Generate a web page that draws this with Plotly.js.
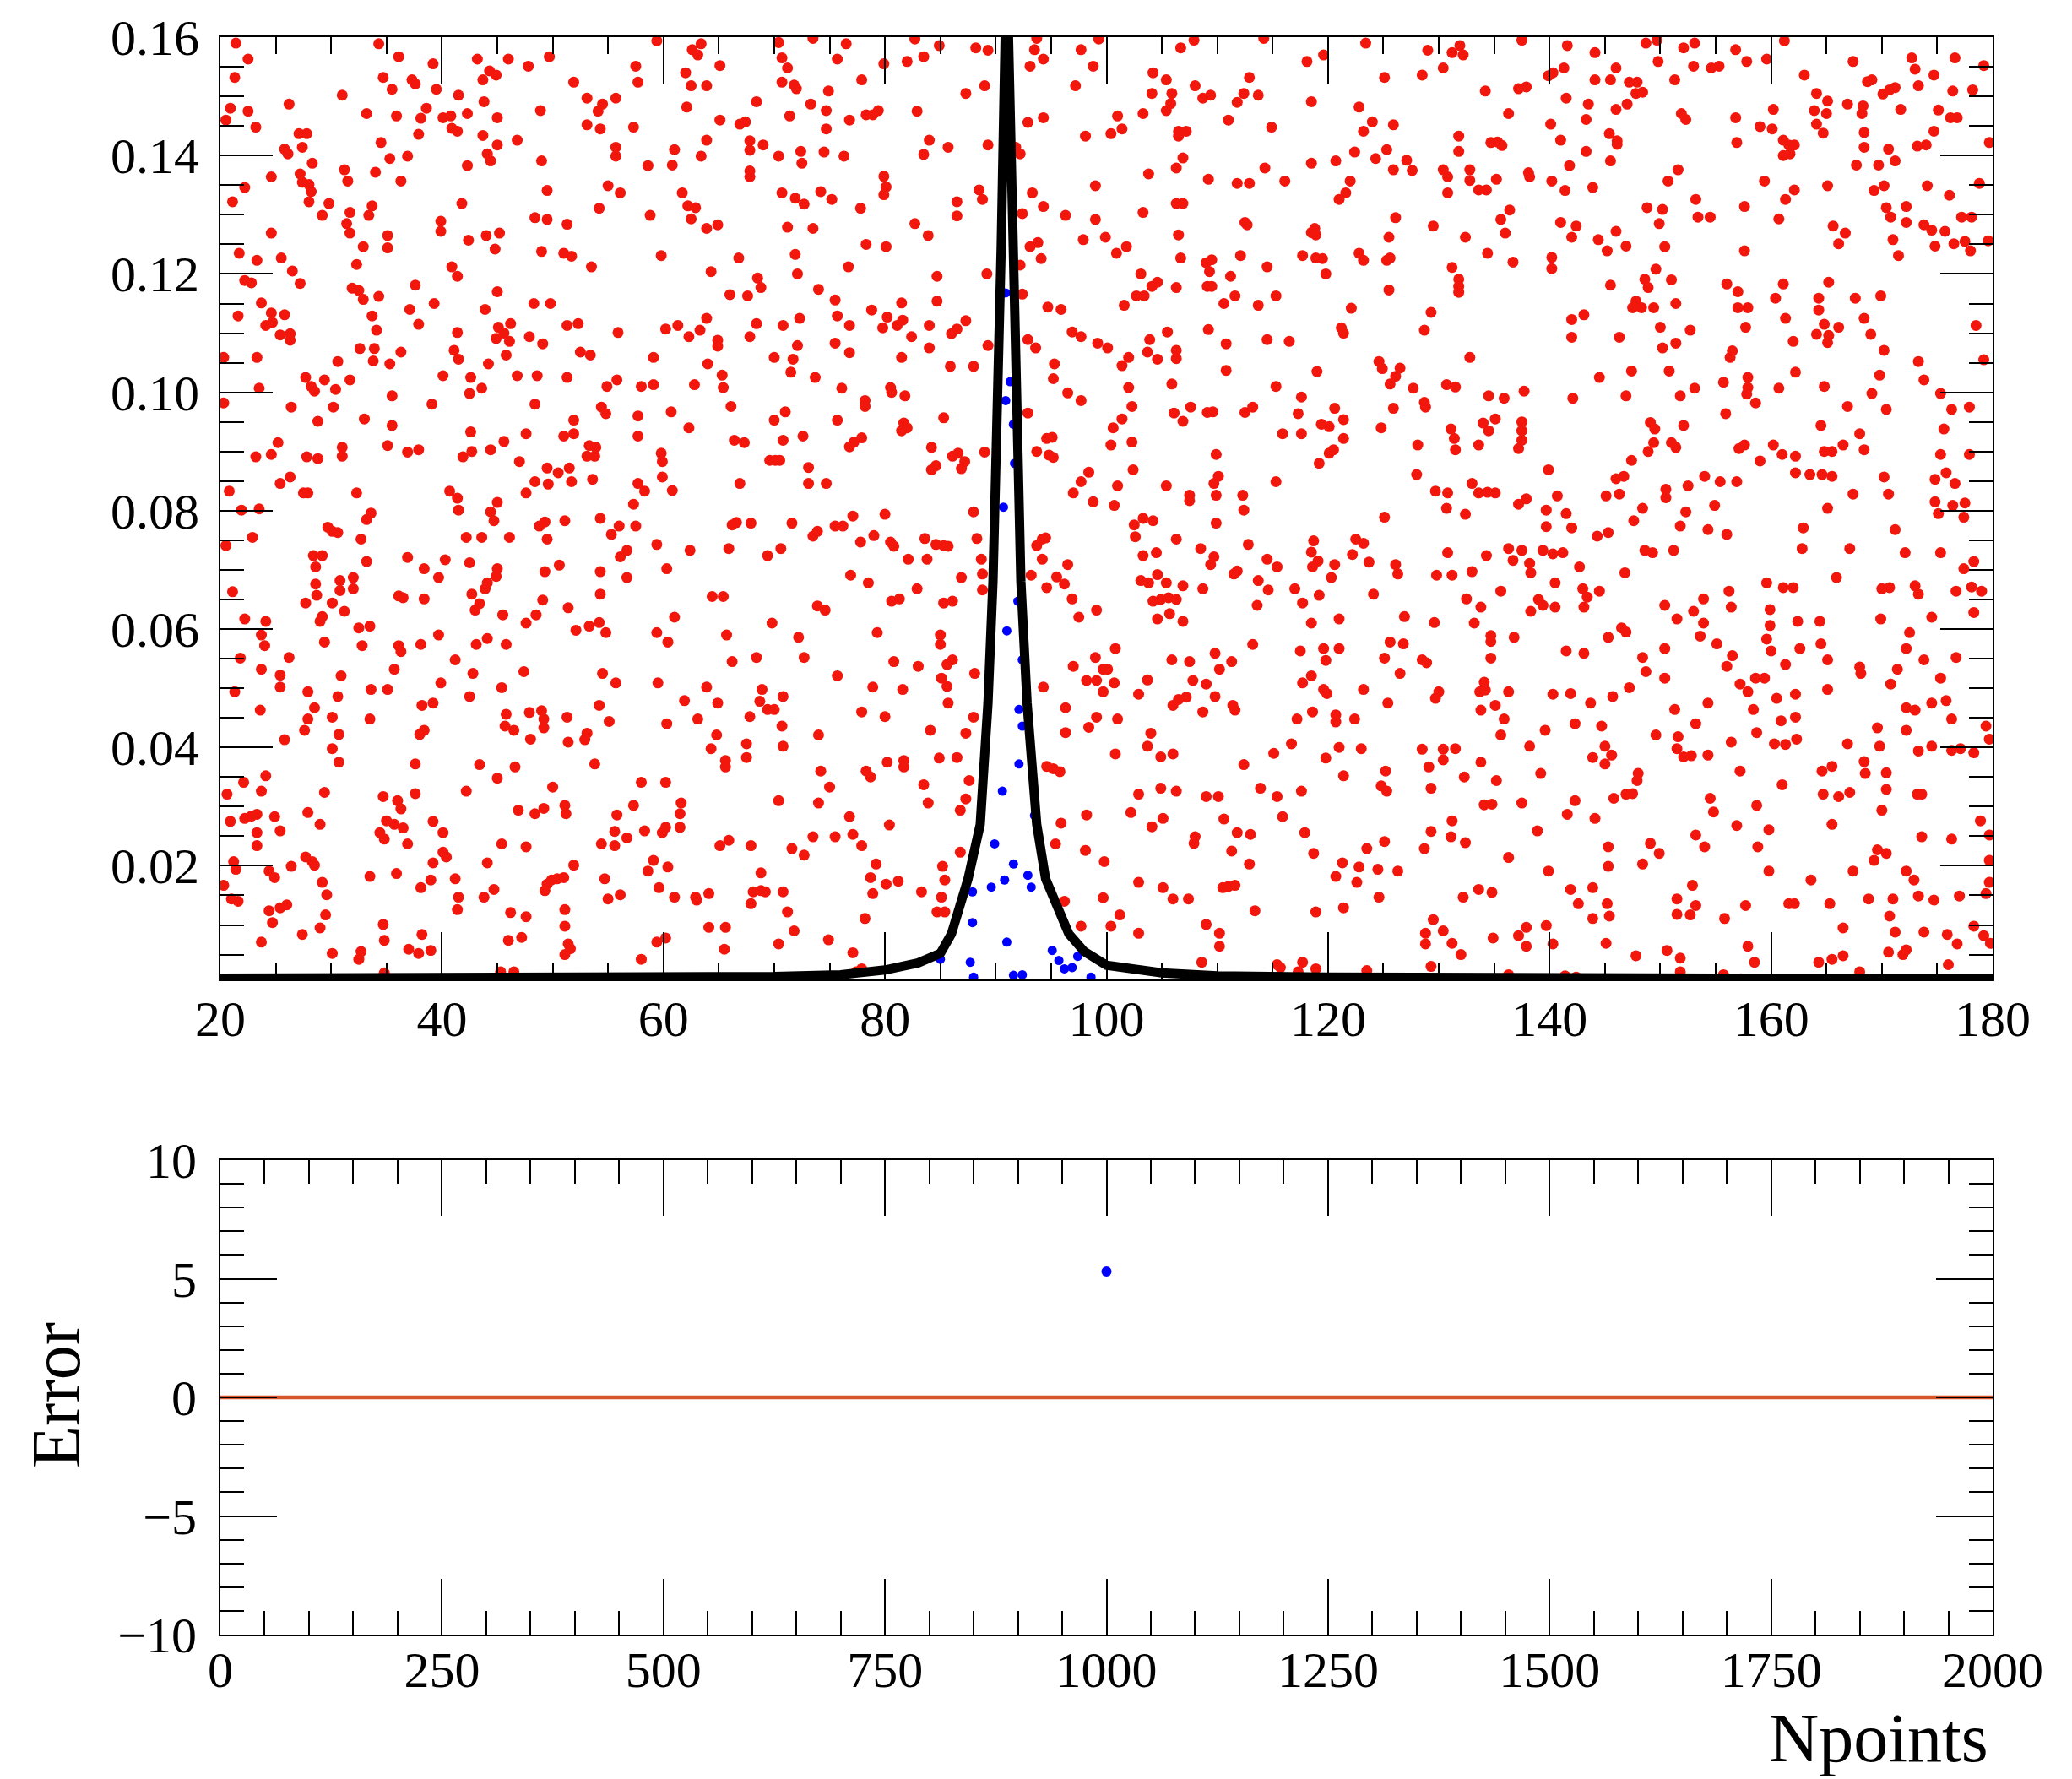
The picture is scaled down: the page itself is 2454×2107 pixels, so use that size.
<!DOCTYPE html>
<html><head><meta charset="utf-8">
<script src="https://cdn.plot.ly/plotly-3.0.1.min.js"></script>
<style>html,body{margin:0;padding:0;background:#fff}#chart{width:2454px;height:2107px}</style>
</head><body><div id="chart"></div>
<script>
// ---- rejected (red) points as [x, y] ----
const red_20_60_upper = [[21.4,0.159],[34.3,0.1589],[36.1,0.1567],[22.5,0.1563],[39.2,0.1555],[43.2,0.1563],[46.0,0.1563],[47.8,0.1551],[49.7,0.1567],[57.5,0.1551],[59.4,0.1594],
[21.3,0.1532],[34.7,0.1532],[35.5,0.1512],[37.3,0.1528],[37.6,0.1521],[39.5,0.1512],[43.7,0.1528],[44.3,0.1543],[44.9,0.1536],[51.9,0.1524],[57.7,0.1524],
[31.0,0.1502],[26.2,0.1487],[41.5,0.1502],[43.8,0.1491],[53.1,0.1497],[55.7,0.1497],[54.5,0.1487],[54.1,0.1475],[20.9,0.1480],[22.5,0.1475],[33.2,0.1471],[35.9,0.1467],[38.6,0.1480],[38.1,0.1463],[40.1,0.1464],[40.8,0.1467],[42.3,0.1471],[45.0,0.1464],[48.9,0.1476],[20.5,0.1460],
[23.2,0.1448],[27.1,0.1437],[27.8,0.1437],[27.4,0.1414],[34.5,0.1422],[37.9,0.1436],[40.9,0.1446],[41.4,0.1441],[43.7,0.1434],[46.8,0.1426],[53.1,0.1452],[54.3,0.1445],[57.3,0.1448],[25.8,0.1411],[26.1,0.1403],[45.0,0.1418],[44.1,0.1403],[44.4,0.1391],[28.3,0.1387],[35.3,0.1395],[36.9,0.1399],[42.3,0.1383],[49.0,0.1391],[55.7,0.1414],[55.7,0.1399],[58.6,0.1383],
[24.6,0.1364],[27.2,0.1369],[27.4,0.1355],[28.0,0.1351],[28.2,0.1339],[28.0,0.1322],[31.2,0.1376],[31.5,0.1357],[34.0,0.1372],[36.3,0.1357],[22.2,0.1346],[21.1,0.1322],[29.8,0.1319],[29.2,0.1299],[31.7,0.1304],[33.7,0.1315],[33.4,0.1299],[41.8,0.1319],[49.5,0.1341],[55.0,0.1349],[56.1,0.1337],[54.2,0.1311],[58.8,0.1299],[48.4,0.1295],[49.5,0.1292],
[31.4,0.1285],[31.7,0.1269],[39.9,0.1289],[39.9,0.1272],[35.1,0.1265],[35.1,0.1244],[24.6,0.1269],[42.4,0.1257],[44.0,0.1265],[45.2,0.1269],[44.8,0.1242],[51.3,0.1284],[49.0,0.1238],[51.0,0.1235],[51.7,0.1230],[21.7,0.1235],[23.3,0.1223],[25.5,0.1227],[32.9,0.1246],[32.3,0.1216],[40.9,0.1212],[41.4,0.1196],[53.5,0.1212],[59.8,0.1231],[26.5,0.1205],[27.2,0.1184],[22.2,0.1189],[22.8,0.1185],
[37.6,0.1181],[31.9,0.1176],[32.5,0.1172],[32.9,0.1157],[34.3,0.1162],[45.0,0.1170],[39.3,0.1150],[23.7,0.1151],[24.6,0.1134],[21.6,0.1129],[25.8,0.1131],[24.1,0.1113],[24.7,0.1118],[48.3,0.1150],[49.8,0.1150],[37.1,0.1140],[43.9,0.1140],[33.7,0.1129],[37.9,0.1115],[34.1,0.1105],[25.4,0.1097],[26.3,0.1099],[26.3,0.1088],[41.4,0.1101],[45.1,0.1110],[44.9,0.1091],[45.6,0.1100],[46.1,0.1086],[46.2,0.1116],[47.9,0.1094],[49.1,0.1082],[51.3,0.1113],[52.3,0.1116],[55.9,0.1101],
[32.6,0.1074],[33.9,0.1074],[36.3,0.1068],[20.3,0.1059],[23.3,0.1059],[41.1,0.1071],[41.5,0.1056],[45.8,0.1063],[44.2,0.1048],[52.5,0.1068],[53.4,0.1063],[59.1,0.1059],[30.6,0.1052],[33.8,0.1053],[35.3,0.1048],[27.7,0.1025],[28.2,0.1010],[29.4,0.1021],[30.4,0.1005],[31.7,0.1021],[28.5,0.1002],[40.1,0.1028],[42.6,0.1025],[42.5,0.0998],[43.6,0.1007],[46.8,0.1028],[48.6,0.1028],[51.3,0.1025],[54.9,0.1010],[55.8,0.1021],[58.0,0.1010],[59.1,0.1013],[23.5,0.1007],[35.5,0.0994],[20.3,0.0982],[26.4,0.0975],[30.2,0.0975],[39.1,0.0980],[48.4,0.0980],
[54.4,0.0975],[54.8,0.0964],[28.8,0.0951],[33.0,0.0955],[35.5,0.0944],[57.7,0.0960],[51.9,0.0953],[42.6,0.0933],[47.6,0.0930],[45.6,0.0917],[51.0,0.0926],[51.9,0.0930],[57.7,0.0926],[25.2,0.0915],[35.1,0.0910],[31.0,0.0907],[31.0,0.0892],[23.2,0.0891],[24.6,0.0895],[27.8,0.0891],[28.8,0.0888],[36.9,0.0899],[37.9,0.0903],[41.9,0.0891],[42.7,0.0900],[44.4,0.0903],[53.3,0.0910],[53.9,0.0907],[53.1,0.0892],[53.8,0.0892],[59.8,0.0897],[59.9,0.0883],
[47.0,0.0883],[49.5,0.0872],[50.5,0.0864],[51.5,0.0872],[48.4,0.0849],[49.6,0.0845],[51.7,0.0849],[53.6,0.0853],[59.9,0.0857],[26.3,0.0857],[25.4,0.0846],[20.8,0.0833],[27.5,0.0830],[27.9,0.0830],[32.3,0.0830],[40.7,0.0833],[41.4,0.0821],[47.6,0.0830],[57.7,0.0846],[58.3,0.0833],[45.0,0.0814],[57.3,0.0811],[21.9,0.0801],[23.5,0.0803],[41.5,0.0801]];

const red_20_60_lower = [[22.9,0.0755],[20.5,0.0741],[29.7,0.0772],[30.1,0.0765],[30.6,0.0763],[32.7,0.0752],[33.2,0.0785],[33.6,0.0796],[44.4,0.0798],[44.7,0.0783],[42.2,0.0755],[43.6,0.0755],[46.1,0.0755],[48.8,0.0774],[49.3,0.0781],[49.5,0.0752],[51.1,0.0783],[54.3,0.0787],[56.0,0.0774],[55.3,0.0760],[57.5,0.0774],[56.7,0.0733],[56.1,0.0722],[59.4,0.0743],[28.4,0.0724],[29.2,0.0724],[28.6,0.0705],[36.9,0.0721],[40.3,0.0717],[33.2,0.0714],[42.5,0.0712],
[38.4,0.0702],[39.7,0.0687],[45.0,0.0702],[44.9,0.0689],[44.1,0.0678],[43.9,0.0668],[49.3,0.0697],[50.6,0.0708],[54.3,0.0697],[56.7,0.0687],[21.1,0.0663],[28.6,0.0676],[28.7,0.0657],[30.8,0.0682],[30.8,0.0665],[32.0,0.0687],[32.0,0.0668],[36.1,0.0656],[36.5,0.0653],[38.4,0.0651],[42.7,0.0659],[43.4,0.0643],[43.0,0.0632],[54.3,0.0659],[49.1,0.0649],[48.5,0.0624],[47.6,0.0610],[51.4,0.0636],[27.7,0.0644],[30.1,0.0644],[31.2,0.0630],[29.2,0.0621],[29.0,0.0613],[45.5,0.0624],[22.2,0.0617],[24.1,0.0613],[23.7,0.0590],[24.0,0.0572],[32.5,0.0602],[33.5,0.0605],[32.8,0.0572],[53.3,0.0605],[54.2,0.0611],[54.8,0.0594],[52.1,0.0598],[59.4,0.0594],
[29.4,0.0578],[38.1,0.0574],[39.7,0.0590],[43.1,0.0574],[44.1,0.0584],[45.8,0.0574],[36.1,0.0572],[36.3,0.0562],[21.8,0.0551],[26.2,0.0552],[23.7,0.0532],[25.4,0.0522],[25.4,0.0502],[30.9,0.0521],[35.7,0.0532],[41.2,0.0548],[42.8,0.0525],[47.4,0.0528],[54.5,0.0525],[55.7,0.0509],[59.5,0.0509],[21.3,0.0494],[27.9,0.0494],[30.6,0.0486],[33.6,0.0498],[35.1,0.0498],[39.9,0.0509],[42.5,0.0486],[45.4,0.0501],
[23.6,0.0463],[28.5,0.0467],[27.9,0.0448],[27.6,0.0429],[30.1,0.0451],[30.7,0.0422],[33.5,0.0448],[38.2,0.0471],[39.2,0.0475],[38.0,0.0422],[38.4,0.0429],[45.8,0.0456],[45.7,0.0436],[46.5,0.0429],[47.9,0.0459],[49.0,0.0462],[49.2,0.0448],[49.2,0.0433],[48.0,0.0414],[51.3,0.0451],[51.4,0.0409],[53.1,0.0424],[52.9,0.0413],[54.2,0.0471],[55.1,0.0444],[25.8,0.0413],[30.1,0.0398],[30.7,0.0375],[37.6,0.0372],[43.4,0.0371],[45.0,0.0348],[46.6,0.0367],[53.8,0.0372],
[22.1,0.0341],[24.1,0.0352],[20.6,0.0321],[23.7,0.0326],[29.4,0.0324],[34.7,0.0317],[36.0,0.0310],[36.3,0.0296],[37.6,0.0322],[42.2,0.0326],[50.0,0.0333],[58.0,0.0341],[46.9,0.0294],[48.4,0.0288],[49.2,0.0297],[51.1,0.0302],[51.2,0.0288],[57.3,0.0302],[22.2,0.0280],[22.8,0.0284],[23.3,0.0287],[20.9,0.0275],[24.9,0.0283],[27.9,0.0290],[29.0,0.0270],[55.8,0.0286],
[23.3,0.0256],[23.3,0.0234],[25.4,0.0259],[34.4,0.0256],[34.8,0.0245],[35.0,0.0276],[35.7,0.0270],[36.5,0.0264],[36.9,0.0237],[39.2,0.0275],[40.1,0.0256],[40.1,0.0223],[40.4,0.0215],[39.2,0.0205],[45.4,0.0237],[47.6,0.0232],[54.4,0.0237],[55.6,0.0258],[55.6,0.0234],[56.7,0.0247],[58.3,0.0259],[59.9,0.0256],[21.2,0.0207],[21.4,0.0194],[26.4,0.0199],[27.7,0.0215],[28.3,0.0207],[28.5,0.0201],[44.1,0.0205],[51.9,0.0201],[59.1,0.0209],[58.6,0.0191],[24.4,0.0191],[24.9,0.0180],[33.5,0.0182],[35.9,0.0187],[41.2,0.0178],[51.0,0.0180],[50.4,0.0178],[49.9,0.0176],[49.5,0.0169],[49.3,0.0158],[54.7,0.0178],[20.3,0.0167],[29.2,0.0172],
[29.6,0.0151],[38.1,0.0163],[39.0,0.0176],[41.5,0.0147],[43.8,0.0147],[44.7,0.0160],[59.6,0.0163],[55.0,0.0144],[56.1,0.0151],[21.0,0.0144],[21.6,0.0140],[24.4,0.0124],[25.4,0.0129],[26.0,0.0134],[24.7,0.0104],[29.5,0.0117],[29.0,0.0095],[27.4,0.0084],[41.4,0.0126],[46.2,0.0121],[47.6,0.0114],[51.1,0.0126],[51.1,0.0098],[34.7,0.0101],[34.8,0.0074],[38.2,0.0084],[23.7,0.0071],[46.0,0.0074],[47.2,0.0079],[51.4,0.0068],[51.6,0.0060],[51.1,0.0050],[37.0,0.0059],[37.9,0.0052],[39.0,0.0057],[59.4,0.0071],[30.1,0.0052],[32.7,0.0055],[32.5,0.0042],[58.0,0.0042],[34.8,0.0019],[45.3,0.0021],[46.5,0.0021]];

const red_60_100_upper = [[62.6,0.1579],[63.1,0.1570],[63.4,0.1589],[65.1,0.1552],[70.4,0.1591],[70.7,0.1565],[71.2,0.1548],[73.5,0.1598],[75.7,0.1563],[76.5,0.1589],[79.9,0.1555],[82.0,0.1559],[82.7,0.1597],[83.5,0.1567],[84.9,0.1586],[88.2,0.1582],[89.3,0.1578],[93.5,0.1579],[94.3,0.1563],[93.1,0.1551],[93.7,0.1598],[97.7,0.1579],[98.8,0.1551],[99.3,0.1597],[62.0,0.1540],[62.5,0.1518],[63.9,0.1518],[70.7,0.1524],[71.8,0.1519],[72.0,0.1513],[74.9,0.1509],[77.9,0.1528],[89.0,0.1518],[87.3,0.1505],[97.2,0.1518],
[68.4,0.1491],[62.1,0.1482],[73.3,0.1487],[74.7,0.1476],[71.4,0.1467],[65.1,0.1460],[66.9,0.1453],[67.4,0.1457],[74.7,0.1445],[76.8,0.1460],[78.3,0.1469],[78.9,0.1469],[79.4,0.1476],[82.9,0.1475],[92.9,0.1456],[94.3,0.1464],[98.1,0.1433],[63.9,0.1426],[61.0,0.1410],[67.8,0.1425],[67.8,0.1409],[69.0,0.1418],[70.4,0.1399],[72.4,0.1407],[72.5,0.1387],[74.5,0.1406],[76.3,0.1399],[63.4,0.1399],[60.8,0.1384],[84.0,0.1426],[85.7,0.1414],[83.5,0.1402],[89.3,0.1418],[92.2,0.1403],[91.8,0.1414],
[67.8,0.1374],[67.8,0.1364],[79.9,0.1365],[80.1,0.1347],[79.9,0.1334],[61.7,0.1337],[62.2,0.1315],[62.9,0.1312],[62.5,0.1293],[63.9,0.1277],[64.9,0.1283],[70.7,0.1337],[71.9,0.1328],[72.7,0.1318],[74.2,0.1339],[75.2,0.1326],[77.8,0.1311],[86.5,0.1322],[86.5,0.1298],[88.5,0.1342],[88.8,0.1326],[93.3,0.1337],[94.3,0.1314],[92.4,0.1302],[96.3,0.1299],[99.0,0.1349],[99.0,0.1292],[71.2,0.1279],[73.5,0.1277],[82.7,0.1285],[83.9,0.1265],
[66.8,0.1227],[71.9,0.1233],[72.1,0.1200],[64.3,0.1204],[68.5,0.1193],[68.8,0.1177],[66.0,0.1165],[67.6,0.1163],[74.0,0.1174],[76.7,0.1212],[78.3,0.1250],[80.1,0.1246],[93.1,0.1246],[93.8,0.1253],[94.1,0.1226],[97.9,0.1258],[99.9,0.1262],[84.7,0.1196],[89.2,0.1200],[92.2,0.1215],[75.5,0.1156],[81.5,0.1151],[78.8,0.1139],[84.7,0.1154],[92.4,0.1166],[94.7,0.1144],[95.9,0.1140],
[60.2,0.1107],[61.3,0.1113],[62.3,0.1094],[63.3,0.1105],[63.9,0.1125],[64.9,0.1088],[64.9,0.1078],[68.4,0.1116],[67.8,0.1094],[70.8,0.1113],[72.3,0.1125],[75.7,0.1129],[76.8,0.1113],[75.5,0.1083],[76.8,0.1067],[72.1,0.1079],[71.7,0.1056],[71.5,0.1034],[70.0,0.1059],[80.2,0.1127],[79.8,0.1109],[81.1,0.1113],[81.6,0.1122],[82.4,0.1094],[84.0,0.1113],[84.0,0.1075],[86.0,0.1099],[86.5,0.1107],[87.3,0.1121],[85.9,0.1044],[88.0,0.1044],[89.3,0.1079],[92.9,0.1089],[93.6,0.1075],[96.9,0.1102],[97.7,0.1094],[99.2,0.1083],[81.5,0.1059],[64.0,0.1048],[65.3,0.1029],[95.3,0.1048],
[62.8,0.1013],[65.4,0.1008],[73.7,0.1025],[76.1,0.1007],[80.5,0.1008],[80.6,0.1000],[81.8,0.0994],[78.2,0.0986],[78.2,0.0976],[95.2,0.1023],[96.5,0.0999],[97.7,0.0986],[60.7,0.0967],[66.1,0.0976],[62.3,0.0940],[70.0,0.0953],[71.0,0.0967],[75.7,0.0953],[85.3,0.0957],[81.7,0.0948],[82.0,0.0940],[81.5,0.0935],[92.9,0.0965],
[66.4,0.0919],[67.3,0.0915],[70.8,0.0919],[72.6,0.0926],[76.8,0.0908],[77.2,0.0916],[77.9,0.0923],[84.2,0.0907],[86.1,0.0892],[86.6,0.0897],[87.2,0.0883],[86.9,0.0871],[84.6,0.0876],[84.2,0.0869],[89.0,0.0899],[93.7,0.0900],[94.6,0.0922],[95.1,0.0924],[94.8,0.0894],[95.2,0.0890],[69.6,0.0885],[70.1,0.0885],[70.5,0.0885],[73.1,0.0873],[98.4,0.0865],[97.7,0.0849],[97.0,0.0830],[66.9,0.0846],[73.1,0.0846],[74.7,0.0846],[60.8,0.0834],[98.8,0.0815]];

const red_60_100_lower = [[66.2,0.0776],[66.6,0.0780],[67.9,0.0779],[71.6,0.0779],[75.5,0.0774],[76.2,0.0774],[77.1,0.0791],[80.0,0.0794],[88.0,0.0798],[62.4,0.0733],[65.9,0.0736],[69.4,0.0724],[70.6,0.0736],[73.5,0.0757],[73.9,0.0765],[77.8,0.0747],[79.0,0.0758],[80.5,0.0747],[80.8,0.0740],[83.6,0.0753],[84.6,0.0743],[85.3,0.0741],[85.7,0.0740],[88.3,0.0753],[94.2,0.0752],[93.7,0.0741],[94.5,0.0754],[60.3,0.0702],[82.1,0.0718],[83.8,0.0718],[88.7,0.0718],[94.2,0.0718],[96.5,0.0709],[76.9,0.0691],[78.5,0.0678],[86.9,0.0687],[88.8,0.0693],[88.8,0.0666],[93.2,0.0691],[95.5,0.0688],[96.2,0.0676],[94.6,0.0670],[82.9,0.0668],
[64.4,0.0655],[65.4,0.0655],[80.6,0.0647],[81.3,0.0651],[85.3,0.0644],[86.1,0.0647],[96.9,0.0651],[73.9,0.0639],[74.6,0.0632],[61.0,0.0620],[69.8,0.0610],[97.5,0.0620],[99.1,0.0632],[60.4,0.0578],[65.7,0.0590],[72.2,0.0586],[79.3,0.0594],[85.0,0.0590],[85.0,0.0574],[66.2,0.0545],[68.4,0.0552],[72.7,0.0552],[80.8,0.0545],[83.0,0.0537],[85.6,0.0540],[86.1,0.0548],[99.0,0.0552],[97.0,0.0537],[99.7,0.0532],
[75.7,0.0521],[78.9,0.0502],[81.6,0.0498],[85.1,0.0517],[85.6,0.0503],[88.1,0.0525],[94.3,0.0502],[98.2,0.0513],[99.1,0.0513],[99.7,0.0494],[63.9,0.0502],[61.9,0.0479],[64.9,0.0475],[68.9,0.0498],[68.7,0.0478],[69.4,0.0464],[70.0,0.0464],[70.8,0.0486],[85.7,0.0475],[77.9,0.0460],[80.0,0.0452],[63.1,0.0448],[67.8,0.0452],[70.7,0.0436],[60.3,0.0440],[88.0,0.0451],[96.3,0.0467],[99.1,0.0451],[98.4,0.0434],[64.8,0.0421],[74.0,0.0421],[84.1,0.0429],[87.3,0.0424],[96.3,0.0425],
[64.3,0.0398],[67.5,0.0406],[70.8,0.0402],[65.6,0.0378],[65.6,0.0367],[67.5,0.0383],[74.2,0.0360],[78.3,0.0360],[78.7,0.0350],[80.2,0.0375],[81.7,0.0378],[81.7,0.0367],[84.9,0.0382],[86.5,0.0383],[94.6,0.0368],[95.2,0.0364],[95.8,0.0359],[60.2,0.0341],[75.0,0.0333],[83.5,0.0337],[87.6,0.0344],[61.6,0.0306],[61.5,0.0288],[70.4,0.0310],[74.0,0.0306],[83.9,0.0306],[87.3,0.0313],[86.8,0.0294],[76.8,0.0283],[98.2,0.0286],
[60.2,0.0265],[61.5,0.0265],[65.1,0.0234],[65.9,0.0243],[67.9,0.0234],[71.6,0.0229],[72.7,0.0218],[73.5,0.0249],[75.5,0.0249],[77.1,0.0253],[77.9,0.0234],[80.4,0.0269],[95.9,0.0272],[86.8,0.0223],[95.4,0.0237],[98.1,0.0226],[60.4,0.0198],[68.8,0.0188],[79.2,0.0203],[85.2,0.0199],[78.7,0.0180],[80.1,0.0169],[81.2,0.0174],[85.4,0.0176],[61.0,0.0147],[62.9,0.0147],[63.0,0.0142],[64.1,0.0153],[68.1,0.0156],[68.8,0.0158],[69.2,0.0156],[70.8,0.0156],[78.9,0.0153],[83.3,0.0156],[85.1,0.0147],
[67.9,0.0136],[71.2,0.0122],[84.7,0.0122],[85.4,0.0122],[96.2,0.0140],[99.7,0.0146],[64.1,0.0096],[65.6,0.0096],[78.2,0.0111],[71.8,0.0090],[97.7,0.0098],[60.2,0.0078],[65.5,0.0059],[70.4,0.0068],[74.9,0.0075],[77.1,0.0053],[77.9,0.0026],[77.4,0.0021]];

const red_100_140_upper = [[106.7,0.1582],[107.9,0.1595],[114.2,0.1598],[118.1,0.1559],[119.6,0.1570],[123.4,0.1590],[129.0,0.1578],[131.2,0.1574],[131.9,0.1586],[132.2,0.1570],[137.5,0.1595],[130.4,0.1548],[128.5,0.1536],[125.1,0.1532],[104.2,0.1540],[105.4,0.1528],[104.1,0.1505],[105.9,0.1505],[108.0,0.1518],[108.7,0.1497],[109.4,0.1502],[112.9,0.1532],[112.4,0.1505],[113.7,0.1502],[111.8,0.1490],[134.2,0.1509],[137.2,0.1513],[137.9,0.1516],[118.5,0.1491],[122.8,0.1482],[105.8,0.1488],[105.4,0.1476],[101.0,0.1467],[103.3,0.1471],
[100.4,0.1437],[101.4,0.1445],[106.5,0.1441],[107.2,0.1441],[106.5,0.1433],[111.0,0.1460],[114.9,0.1448],[124.0,0.1457],[123.2,0.1441],[125.9,0.1452],[136.3,0.1471],[131.8,0.1433],[131.8,0.1407],[134.7,0.1422],[135.3,0.1423],[135.7,0.1417],[106.9,0.1396],[106.3,0.1379],[103.8,0.1369],[109.2,0.1360],[111.8,0.1353],[112.9,0.1353],[114.3,0.1379],[116.1,0.1357],[118.5,0.1387],[120.7,0.1391],[122.4,0.1406],[124.3,0.1395],[125.3,0.1410],[125.9,0.1376],[127.1,0.1392],[127.6,0.1375],[130.4,0.1376],[130.8,0.1364],[132.8,0.1376],[132.8,0.1358],[133.6,0.1342],[134.3,0.1342],[135.2,0.1360],[138.1,0.1371],[138.2,0.1364],[122.0,0.1357],[121.6,0.1337],[121.0,0.1326],[130.8,0.1337],
[106.3,0.1319],[106.9,0.1319],[103.3,0.1304],[112.5,0.1287],[112.7,0.1283],[136.4,0.1308],[135.6,0.1292],[136.0,0.1269],[126.1,0.1295],[129.5,0.1281],[118.8,0.1277],[118.9,0.1266],[118.5,0.1270],[100.9,0.1235],[101.8,0.1246],[106.5,0.1266],[125.5,0.1262],[132.4,0.1262],[106.7,0.1227],[109.0,0.1219],[109.5,0.1224],[109.3,0.1204],[112.1,0.1231],[117.7,0.1231],[118.9,0.1227],[119.5,0.1226],[119.8,0.1200],[122.8,0.1235],[123.2,0.1223],[125.3,0.1223],[125.6,0.1227],[134.4,0.1235],[136.7,0.1220],[114.5,0.1212],[131.2,0.1211],[103.1,0.1200],[104.6,0.1186],[104.1,0.1179],[103.4,0.1163],[102.7,0.1163],[111.2,0.1196],
[131.8,0.1191],[131.8,0.1179],[131.8,0.1169],[106.3,0.1177],[109.1,0.1179],[109.5,0.1179],[115.3,0.1163],[111.6,0.1163],[110.6,0.1150],[101.6,0.1147],[113.7,0.1147],[125.5,0.1173],[122.1,0.1142],[129.3,0.1135],[121.2,0.1109],[121.4,0.1100],[128.7,0.1105],[105.5,0.1102],[109.2,0.1106],[103.9,0.1089],[103.7,0.1068],[104.6,0.1056],[106.3,0.1071],[106.3,0.1057],[102.0,0.1059],[101.4,0.1045],[100.1,0.1075],[114.5,0.1089],[116.5,0.1086],[110.8,0.1082],
[132.8,0.1059],[124.6,0.1052],[124.9,0.1040],[126.5,0.1041],[126.1,0.1027],[125.6,0.1014],[110.8,0.1037],[119.0,0.1035],[105.9,0.1014],[102.0,0.1008],[115.3,0.1010],[127.7,0.1007],[130.7,0.1013],[131.5,0.1009],[134.5,0.0994],[135.9,0.0990],[137.7,0.1002],[128.7,0.0983],[128.8,0.0975],[117.6,0.0992],[102.3,0.0976],[107.6,0.0975],[106.1,0.0965],[106.9,0.0951],[109.1,0.0966],[109.6,0.0967],[112.5,0.0966],[113.2,0.0975],[117.3,0.0964],[120.6,0.0973],[125.9,0.0973],[121.4,0.0954],[119.4,0.0946],[120.1,0.0942],[101.4,0.0955],[100.6,0.0940],
[115.9,0.0930],[117.6,0.0930],[121.4,0.0922],[124.8,0.0940],[131.1,0.0938],[131.4,0.0922],[131.5,0.0903],[134.0,0.0948],[135.1,0.0955],[134.5,0.0935],[133.6,0.0911],[137.5,0.0950],[137.5,0.0935],[137.5,0.0919],[137.2,0.0905],[128.1,0.0911],[100.4,0.0911],[102.3,0.0916],[109.9,0.0895],[120.5,0.0903],[120.1,0.0897],[119.2,0.0880],[102.4,0.0869],[101.0,0.0842],[105.4,0.0842],[110.1,0.0858],[109.7,0.0846],[109.9,0.0826],[107.5,0.0826],[107.5,0.0817],[112.3,0.0826],[115.3,0.0849],[128.0,0.0861],[129.7,0.0833],[130.8,0.0830],[133.0,0.0846],[133.6,0.0830],[134.4,0.0831],[135.1,0.0830],[137.9,0.0820],[137.2,0.0811],[100.7,0.0809],[130.7,0.0804],[112.4,0.0801]];

const red_100_140_lower = [[125.1,0.0789],[132.4,0.0794],[102.5,0.0776],[103.3,0.0787],[104.2,0.0783],[102.6,0.0756],[106.3,0.0752],[109.9,0.0779],[112.8,0.0743],[103.3,0.0724],[104.5,0.0729],[108.5,0.0736],[109.7,0.0722],[109.4,0.0709],[118.7,0.0749],[118.5,0.0730],[119.1,0.0715],[118.6,0.0705],[120.6,0.0709],[122.5,0.0752],[123.2,0.0745],[122.2,0.0726],[123.7,0.0713],[126.1,0.0709],[126.3,0.0693],[130.8,0.0729],[134.3,0.0724],[136.3,0.0736],[137.5,0.0733],[136.7,0.0716],[138.2,0.0711],[138.3,0.0695],[139.4,0.0733],[139.7,0.0773],[114.5,0.0718],[115.4,0.0705],[111.5,0.0693],[111.8,0.0698],[103.1,0.0682],[103.8,0.0678],[104.6,0.0692],[105.4,0.0678],[106.9,0.0673],[108.7,0.0668],[113.7,0.0682],[114.6,0.0666],[117.0,0.0668],[120.3,0.0687],[129.8,0.0691],[131.2,0.0691],[133.0,0.0697],[135.6,0.0664],
[104.2,0.0647],[104.9,0.0650],[105.6,0.0653],[106.3,0.0650],[104.6,0.0617],[105.7,0.0626],[106.9,0.0613],[113.6,0.0640],[117.7,0.0644],[119.2,0.0657],[124.1,0.0659],[132.5,0.0651],[133.8,0.0637],[138.3,0.0630],[139.0,0.0650],[139.4,0.0640],[118.5,0.0610],[121.0,0.0617],[126.9,0.0621],[129.6,0.0611],[133.2,0.0610],[134.7,0.0589],[134.7,0.0579],[136.8,0.0586],[113.2,0.0574],[125.6,0.0578],[126.8,0.0575],[100.8,0.0567],[117.5,0.0563],[119.6,0.0567],[121.0,0.0567],[125.1,0.0551],[128.5,0.0548],[128.9,0.0543],[134.7,0.0551],
[105.9,0.0548],[107.5,0.0545],[109.8,0.0559],[110.2,0.0532],[111.3,0.0545],[100.1,0.0532],[100.7,0.0509],[103.7,0.0514],[102.9,0.0490],[107.8,0.0513],[109.0,0.0507],[109.8,0.0486],[106.0,0.0471],[106.5,0.0481],[107.2,0.0485],[108.7,0.0460],[111.4,0.0471],[111.6,0.0463],[119.8,0.0547],[118.5,0.0521],[117.7,0.0509],[119.6,0.0498],[119.9,0.0491],[126.5,0.0525],[130.0,0.0494],[129.7,0.0483],[123.2,0.0498],[125.4,0.0475],[134.1,0.0510],[133.7,0.0494],[134.2,0.0497],[136.3,0.0494],[101.0,0.0448],[117.2,0.0448],[118.6,0.0460],[120.7,0.0455],[120.7,0.0443],[122.4,0.0448],[133.8,0.0463],[135.1,0.0471],[135.9,0.0448],[135.6,0.0421],[139.6,0.0429],[104.0,0.0424],[103.7,0.0402],
[100.8,0.0389],[104.9,0.0384],[106.0,0.0389],[112.4,0.0371],[115.1,0.0390],[116.7,0.0406],[119.8,0.0382],[121.0,0.0400],[123.0,0.0398],[121.4,0.0352],[128.5,0.0397],[130.4,0.0397],[131.5,0.0398],[130.4,0.0379],[129.1,0.0367],[133.8,0.0375],[138.2,0.0402],[125.2,0.0360],[124.8,0.0335],[125.3,0.0326],[132.3,0.0350],[135.2,0.0344],[139.2,0.0356],[102.9,0.0321],[104.9,0.0331],[106.3,0.0326],[109.0,0.0317],[110.1,0.0317],[113.9,0.0331],[115.4,0.0317],[117.6,0.0326],[129.3,0.0331],[134.1,0.0303],[134.8,0.0304],[137.5,0.0306],[102.2,0.0290],[104.1,0.0266],[105.1,0.0280],[110.6,0.0279],[115.9,0.0283],
[108.0,0.0249],[107.9,0.0238],[111.8,0.0256],[113.0,0.0253],[111.3,0.0225],[112.9,0.0203],[117.9,0.0256],[118.7,0.0221],[123.5,0.0229],[125.1,0.0241],[128.7,0.0229],[129.3,0.0258],[131.2,0.0276],[131.1,0.0249],[132.4,0.0239],[138.9,0.0259],[136.3,0.0214],[121.3,0.0205],[122.8,0.0198],[124.5,0.0194],[126.3,0.0191],[120.7,0.0182],[122.6,0.0172],[124.6,0.0147],[139.9,0.0191],[99.8,0.0207],[102.9,0.0172],[105.1,0.0163],[106.0,0.0144],[107.4,0.0144],[110.5,0.0163],[111.0,0.0165],[111.6,0.0167],[132.2,0.0147],[133.6,0.0160],[134.8,0.0155],
[101.2,0.0117],[100.4,0.0098],[102.9,0.0086],[113.4,0.0124],[118.9,0.0122],[121.4,0.0129],[109.0,0.0101],[110.2,0.0086],[110.2,0.0064],[129.5,0.0109],[128.8,0.0086],[130.4,0.0090],[131.2,0.0069],[132.0,0.0050],[128.8,0.0068],[134.9,0.0078],[137.2,0.0082],[137.9,0.0096],[137.9,0.0064],[139.7,0.0099],[108.6,0.0037],[115.4,0.0033],[115.7,0.0028],[117.7,0.0037],[117.3,0.0021],[118.9,0.0026],[123.5,0.0023],[129.3,0.0030],[136.3,0.0016]];

const red_140_180_upper = [[141.6,0.1586],[144.1,0.1574],[148.7,0.1590],[149.7,0.1595],[149.8,0.1559],[152.1,0.1582],[153.1,0.1590],[153.0,0.1551],[154.6,0.1548],[155.3,0.1551],[156.8,0.1579],[157.8,0.1559],[159.6,0.1563],[161.2,0.1594],[167.4,0.1559],[172.7,0.1565],[173.0,0.1546],[176.6,0.1565],[179.2,0.1552],[139.9,0.1535],[140.3,0.1540],[141.3,0.1548],[144.1,0.1528],[145.5,0.1528],[146.0,0.1548],[147.2,0.1524],[147.9,0.1524],[147.8,0.1505],[148.4,0.1507],[151.3,0.1528],[163.0,0.1536],[168.7,0.1525],[169.1,0.1528],[174.7,0.1536],[173.3,0.1518],[170.1,0.1504],[170.7,0.1511],[171.2,0.1515],[176.4,0.1509],[178.2,0.1511],[141.5,0.1497],[143.5,0.1487],[147.0,0.1487],[146.0,0.1478],[164.1,0.1505],[165.1,0.1492],[166.9,0.1487],[168.3,0.1484],[168.2,0.1471],[163.9,0.1476],[165.0,0.1471],[171.7,0.1478],[175.1,0.1477],[176.2,0.1464],[176.8,0.1464],
[140.1,0.1453],[143.3,0.1461],[151.9,0.1471],[152.3,0.1461],[156.8,0.1464],[160.2,0.1478],[159.0,0.1449],[160.1,0.1445],[164.1,0.1453],[164.7,0.1438],[168.4,0.1439],[168.4,0.1414],[174.7,0.1441],[179.7,0.1422],[141.0,0.1426],[145.4,0.1437],[146.1,0.1425],[146.1,0.1419],[143.3,0.1407],[145.5,0.1391],[141.8,0.1383],[156.9,0.1422],[161.1,0.1426],[161.6,0.1418],[162.1,0.1418],[161.1,0.1400],[161.7,0.1403],[170.6,0.1411],[171.2,0.1391],[173.2,0.1416],[174.0,0.1418],[167.7,0.1384],[169.7,0.1384],[151.6,0.1376],[150.7,0.1357],[140.2,0.1357],[141.4,0.1341],[143.9,0.1346],[159.4,0.1357],[165.1,0.1349],[162.1,0.1342],[161.3,0.1326],[169.3,0.1341],[170.2,0.1349],[174.1,0.1349],[176.1,0.1333],[178.8,0.1353],
[153.2,0.1326],[148.8,0.1312],[150.2,0.1309],[157.6,0.1314],[153.4,0.1296],[154.5,0.1296],[160.7,0.1293],[170.4,0.1312],[170.8,0.1296],[172.2,0.1314],[172.2,0.1287],[173.8,0.1283],[174.5,0.1274],[175.7,0.1272],[177.2,0.1296],[178.1,0.1296],[141.0,0.1287],[142.4,0.1281],[142.0,0.1262],[146.0,0.1272],[144.4,0.1258],[145.2,0.1239],[146.9,0.1247],[149.9,0.1285],[150.4,0.1246],[157.6,0.1239],[165.6,0.1281],[166.7,0.1269],[166.1,0.1251],[171.0,0.1258],[171.5,0.1231],[174.8,0.1247],[176.5,0.1251],[177.5,0.1255],[178.0,0.1239],[179.6,0.1256],[140.2,0.1228],[140.2,0.1209],
[149.6,0.1208],[148.6,0.1191],[148.9,0.1177],[151.0,0.1190],[145.5,0.1181],[156.0,0.1183],[157.0,0.1170],[161.1,0.1183],[165.2,0.1186],[147.8,0.1154],[147.5,0.1143],[148.3,0.1143],[149.4,0.1143],[151.4,0.1150],[157.0,0.1143],[157.9,0.1143],[160.4,0.1159],[164.3,0.1159],[164.3,0.1139],[167.6,0.1159],[169.9,0.1163],[142.0,0.1123],[143.1,0.1131],[150.0,0.1110],[152.7,0.1105],[157.7,0.1110],[161.3,0.1125],[164.8,0.1115],[166.1,0.1110],[165.2,0.1096],[164.1,0.1098],[165.1,0.1084],[168.4,0.1125],[169.0,0.1098],[178.5,0.1113],[142.0,0.1093],[146.3,0.1093],[150.2,0.1075],[151.4,0.1083],[162.0,0.1086],[156.5,0.1070],[156.3,0.1059],[170.2,0.1071],
[173.3,0.1052],[179.2,0.1055],[147.4,0.1036],[150.8,0.1036],[144.5,0.1025],[157.9,0.1025],[162.2,0.1034],[169.8,0.1029],[173.8,0.1021],[142.1,0.0990],[146.9,0.0994],[151.8,0.0994],[153.1,0.1007],[155.7,0.1017],[157.9,0.1008],[157.8,0.0997],[158.6,0.0982],[160.7,0.1007],[164.8,0.1010],[169.1,0.0998],[175.3,0.0998],[166.9,0.0976],[170.4,0.0971],[176.3,0.0971],[177.9,0.0975],[155.9,0.0964],[149.1,0.0949],[149.5,0.0938],[152.1,0.0944],[164.5,0.0944],[168.0,0.0930],[175.6,0.0938],
[149.4,0.0915],[151.0,0.0915],[151.4,0.0907],[148.9,0.0900],[157.1,0.0905],[157.6,0.0911],[160.2,0.0911],[161.0,0.0895],[162.2,0.0892],[166.5,0.0911],[164.8,0.0900],[165.5,0.0900],[168.4,0.0903],[175.3,0.0895],[177.9,0.0895],[147.4,0.0885],[159.0,0.0884],[139.9,0.0869],[146.0,0.0854],[146.7,0.0858],[154.0,0.0858],[155.4,0.0849],[156.9,0.0849],[162.2,0.0864],[163.5,0.0861],[164.6,0.0861],[165.5,0.0858],[170.2,0.0857],[174.8,0.0853],[175.8,0.0864],[176.6,0.0846],[140.7,0.0825],[145.1,0.0825],[146.3,0.0828],[150.5,0.0836],[150.5,0.0822],[152.5,0.0842],[167.4,0.0828],[170.6,0.0828],[154.9,0.0809],[148.4,0.0804],[165.1,0.0804],[174.8,0.0815],[176.4,0.0809],[177.5,0.0813],[139.7,0.0801]];

const red_140_180_lower = [[141.5,0.0795],[142.0,0.0771],[147.6,0.0783],[152.3,0.0798],[151.8,0.0774],[154.3,0.0768],[156.0,0.0760],[162.9,0.0771],[171.2,0.0768],[175.1,0.0795],[177.4,0.0789],[144.3,0.0757],[145.3,0.0763],[140.3,0.0727],[141.2,0.0729],[148.6,0.0733],[149.3,0.0729],[151.2,0.0733],[162.8,0.0736],[167.1,0.0736],[172.1,0.0729],[175.3,0.0729],[178.3,0.0714],[177.4,0.0702],[142.7,0.0705],[146.8,0.0695],[165.9,0.0687],[140.5,0.0678],[143.0,0.0668],[144.5,0.0664],[143.4,0.0654],[143.1,0.0637],[140.5,0.0637],[159.6,0.0678],[161.1,0.0670],[162.0,0.0670],[156.2,0.0664],[170.0,0.0668],[170.7,0.0670],[173.0,0.0673],[173.3,0.0659],[176.7,0.0664],[178.1,0.0671],[179.0,0.0664],
[150.4,0.0640],[151.5,0.0617],[153.0,0.0630],[153.9,0.0651],[153.9,0.0610],[156.4,0.0637],[159.9,0.0633],[159.9,0.0606],[162.4,0.0613],[164.4,0.0613],[169.9,0.0617],[174.5,0.0620],[178.3,0.0628],[145.3,0.0586],[146.5,0.0602],[146.9,0.0595],[153.6,0.0588],[155.1,0.0575],[159.6,0.0583],[160.0,0.0563],[162.6,0.0567],[164.5,0.0575],[172.5,0.0594],[172.2,0.0567],[141.5,0.0563],[143.1,0.0559],[150.4,0.0567],[148.4,0.0552],[156.5,0.0555],[165.1,0.0548],[173.8,0.0548],[176.7,0.0552],
[148.7,0.0528],[150.4,0.0517],[156.0,0.0537],[161.3,0.0540],[168.0,0.0536],[168.1,0.0525],[171.4,0.0532],[170.8,0.0507],[175.3,0.0517],[140.3,0.0490],[141.9,0.0491],[143.7,0.0475],[145.7,0.0486],[147.2,0.0501],[157.2,0.0507],[157.9,0.0494],[158.6,0.0517],[159.4,0.0517],[160.5,0.0483],[162.2,0.0490],[165.1,0.0498],[151.3,0.0464],[154.3,0.0475],[158.4,0.0464],[172.2,0.0467],[173.0,0.0463],[174.5,0.0475],[175.8,0.0479],[176.3,0.0448],[142.3,0.0440],[144.7,0.0436],[153.2,0.0440],[160.9,0.0445],[162.2,0.0451],[149.6,0.0421],[151.6,0.0418],[158.7,0.0425],[169.6,0.0433],[172.2,0.0429],[179.4,0.0436],[179.7,0.0414],
[156.4,0.0409],[160.3,0.0406],[161.3,0.0405],[162.3,0.0414],[166.9,0.0406],[169.8,0.0402],[174.5,0.0402],[176.3,0.0395],[177.1,0.0398],[178.3,0.0391],[173.3,0.0394],[145.0,0.0402],[145.6,0.0387],[145.0,0.0372],[143.9,0.0383],[151.5,0.0398],[152.1,0.0384],[152.8,0.0386],[154.3,0.0387],[157.2,0.0360],[164.6,0.0360],[165.5,0.0368],[168.4,0.0376],[168.5,0.0356],[170.4,0.0357],[148.0,0.0356],[147.9,0.0344],[146.9,0.0321],[147.5,0.0322],[145.8,0.0314],[142.3,0.0310],[141.6,0.0287],[144.1,0.0280],[154.5,0.0314],[154.8,0.0291],[158.7,0.0302],[161.0,0.0337],[164.7,0.0321],[166.1,0.0317],[167.1,0.0324],[170.4,0.0329],[170.0,0.0294],[173.2,0.0321],[173.6,0.0321],[178.9,0.0276],
[156.9,0.0268],[159.8,0.0261],[165.5,0.0270],[153.2,0.0252],[154.0,0.0232],[145.3,0.0232],[149.1,0.0238],[149.9,0.0221],[158.8,0.0232],[169.6,0.0227],[170.4,0.0221],[169.3,0.0209],[173.6,0.0249],[176.3,0.0245],[179.7,0.0252],[179.7,0.0209],[145.3,0.0199],[148.4,0.0203],[159.8,0.0191],[167.4,0.0191],[172.2,0.0191],[172.9,0.0176],[163.6,0.0176],[141.9,0.0160],[143.9,0.0163],[142.6,0.0136],[145.2,0.0136],[143.9,0.0111],[145.4,0.0115],[152.9,0.0167],[151.5,0.0144],[151.5,0.0118],[152.7,0.0117],[153.2,0.0133],[157.7,0.0133],[155.8,0.0111],[161.6,0.0136],[162.1,0.0136],[165.3,0.0136],[168.8,0.0144],[171.0,0.0144],[173.3,0.0149],[174.7,0.0142],[177.0,0.0149],[179.4,0.0153],[179.7,0.0172],
[170.7,0.0115],[166.5,0.0095],[171.2,0.0088],[173.8,0.0088],[175.9,0.0084],[176.8,0.0068],[178.3,0.0098],[179.2,0.0082],[179.8,0.0069],[140.3,0.0068],[145.1,0.0069],[147.8,0.0048],[150.6,0.0057],[151.8,0.0044],[151.8,0.0021],[157.9,0.0064],[158.5,0.0037],[164.3,0.0037],[165.5,0.0042],[166.5,0.0048],[170.6,0.0054],[172.2,0.0058],[171.9,0.0050],[176.0,0.0033],[168.0,0.0021],[141.4,0.0014],[142.4,0.0012],[155.7,0.0016],[157.3,0.0009]];

// ---- accepted (blue) points under the curve ----
const bluePoints = [[90.9,0.1168],[91.3,0.1018],[90.9,0.0986],[91.6,0.0946],[91.7,0.0880],[90.7,0.0806],[92.0,0.0647],[91.0,0.0597],[92.4,0.0548],[92.1,0.0464],[92.4,0.0436],[92.1,0.0372],[90.6,0.0326],[93.5,0.0285],[89.9,0.0237],[91.6,0.0203],[92.9,0.0184],[90.8,0.0176],[93.2,0.0164],[89.6,0.0164],[87.9,0.0156],[87.9,0.0104],[91.0,0.0071],[85.0,0.0042],[87.7,0.0037],[88.0,0.0012],[91.6,0.0015],[92.4,0.0016],[95.1,0.0057],[95.7,0.0040],[96.2,0.0026],[96.9,0.0028],[97.4,0.0047],[98.6,0.0012]];

// ---- curve (peak near 91) ----
const curveX = [20, 40, 60, 70, 76, 80, 83, 85, 86.0, 87.5, 88.6, 89.3, 89.75, 90.2, 90.5, 90.85, 91.0, 91.15, 91.5, 91.77, 92.27, 92.83, 93.7, 94.5, 96.6, 98, 100, 105, 110, 120, 140, 160, 180];
const curveY = [0.0010, 0.0010, 0.0011, 0.0013, 0.0016, 0.0024, 0.0036, 0.0052, 0.0085, 0.0178, 0.027, 0.0475, 0.068, 0.099, 0.125, 0.16, 0.19, 0.16, 0.125, 0.099, 0.068, 0.0475, 0.027, 0.0178, 0.0085, 0.0055, 0.0032, 0.0019, 0.0014, 0.0012, 0.0010, 0.0010, 0.0010];

// ---- lower panel ----
const errLineX = [0, 2000];
const errLineY = [0, 0];
const errPointX = [1000];
const errPointY = [5.3];

const topXTicks = [20, 40, 60, 80, 100, 120, 140, 160, 180];
const bottomXTicks = [0, 250, 500, 750, 1000, 1250, 1500, 1750, 2000];

const redAll = [].concat(red_20_60_upper, red_20_60_lower, red_60_100_upper, red_60_100_lower,
  red_100_140_upper, red_100_140_lower, red_140_180_upper, red_140_180_lower);

const FONT = 'Liberation Serif, "Times New Roman", serif';
const TICKFONT = {family: FONT, size: 60, color: '#000'};

function axis(o) {
  return Object.assign({
    showgrid: false, zeroline: false, showline: true, linecolor: '#000', linewidth: 2,
    mirror: 'ticks', ticks: 'inside', tickcolor: '#000', tickwidth: 2,
    tickfont: TICKFONT, fixedrange: true, automargin: false
  }, o);
}

const traces = [
  {type: 'scatter', mode: 'markers', x: redAll.map(p => p[0]), y: redAll.map(p => p[1]),
   xaxis: 'x', yaxis: 'y', marker: {color: '#f2170c', size: 13, line: {width: 0}}, hoverinfo: 'skip'},
  {type: 'scatter', mode: 'markers', x: bluePoints.map(p => p[0]), y: bluePoints.map(p => p[1]),
   xaxis: 'x', yaxis: 'y', marker: {color: '#0000ff', size: 11, line: {width: 0}}, hoverinfo: 'skip'},
  {type: 'scatter', mode: 'lines', x: curveX, y: curveY, xaxis: 'x', yaxis: 'y',
   line: {color: '#000', width: 11}, hoverinfo: 'skip'},
  {type: 'scatter', mode: 'lines', x: errLineX, y: errLineY, xaxis: 'x2', yaxis: 'y2',
   line: {color: '#d6552b', width: 4.5}, hoverinfo: 'skip'},
  {type: 'scatter', mode: 'markers', x: errPointX, y: errPointY, xaxis: 'x2', yaxis: 'y2',
   marker: {color: '#0000ff', size: 12, line: {width: 0}}, hoverinfo: 'skip'}
];

const XD = [261/2454, 2360/2454];
const layout = {
  width: 2454, height: 2107, margin: {l: 0, r: 0, t: 0, b: 0},
  paper_bgcolor: '#fff', plot_bgcolor: '#fff', showlegend: false,
  font: {family: FONT, color: '#000'},
  xaxis: axis({domain: XD, anchor: 'y', range: [20, 180], tickmode: 'array', tickvals: topXTicks,
    ticklen: 56, ticklabelstandoff: -7,
    minor: {dtick: 5, tick0: 20, ticklen: 20, ticks: 'inside', tickcolor: '#000', tickwidth: 2}}),
  yaxis: axis({domain: [1 - 1160/2107, 1 - 44/2107], anchor: 'x', range: [0.0008, 0.16001],
    tick0: 0, dtick: 0.02, tickformat: '.2f', ticklen: 62, ticklabelstandoff: 11,
    minor: {dtick: 0.005, tick0: 0, ticklen: 28, ticks: 'inside', tickcolor: '#000', tickwidth: 2}}),
  xaxis2: axis({domain: XD, anchor: 'y2', range: [0, 2000], tickmode: 'array', tickvals: bottomXTicks,
    ticklen: 66, ticklabelstandoff: -12,
    minor: {dtick: 50, tick0: 0, ticklen: 28, ticks: 'inside', tickcolor: '#000', tickwidth: 2}}),
  yaxis2: axis({domain: [1 - 1936/2107, 1 - 1374/2107], anchor: 'x2', range: [-10, 10],
    tick0: 0, dtick: 5, ticklen: 67, ticklabelstandoff: 14,
    minor: {dtick: 1, tick0: 0, ticklen: 28, ticks: 'inside', tickcolor: '#000', tickwidth: 2}}),
  annotations: [
    {text: 'Error', xref: 'paper', yref: 'paper', x: 66/2454, y: 1 - 1653/2107,
     xanchor: 'center', yanchor: 'middle', textangle: -90, showarrow: false,
     font: {family: FONT, size: 82, color: '#000'}},
    {text: 'Npoints', xref: 'paper', yref: 'paper', x: 2357/2454, y: 1 - 2058/2107,
     xanchor: 'right', yanchor: 'middle', showarrow: false,
     font: {family: FONT, size: 82, color: '#000'}}
  ]
};

Plotly.newPlot('chart', traces, layout, {displayModeBar: false, staticPlot: true});
</script></body></html>
